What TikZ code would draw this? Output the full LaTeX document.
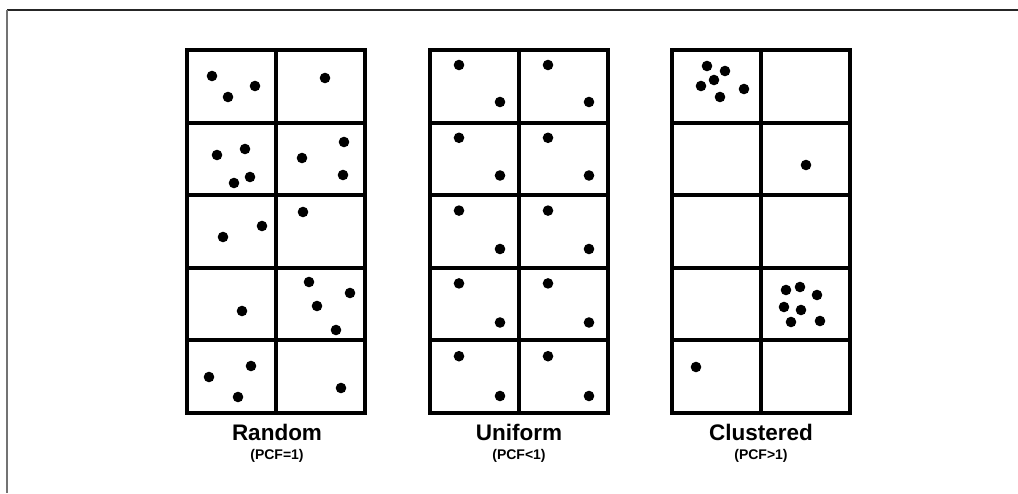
\documentclass[tikz,border=0pt]{standalone}
\usepackage{fontspec}
\newfontfamily\lblfont{Liberation Sans}
\usepackage{tikz}
\tikzset{
  gridline/.style={line width=4pt, black},
  dot/.style={fill=black},
  panellbl/.style={font=\lblfont\bfseries\fontsize{22.5}{26}\selectfont, anchor=base, inner sep=0pt},
  pcflbl/.style={font=\lblfont\bfseries\fontsize{14}{17}\selectfont, anchor=base, inner sep=0pt}
}

\begin{document}
\begin{tikzpicture}[x=1pt, y=-1pt]
  \useasboundingbox (0,0) rectangle (1018,493);
  % Frame
  \draw[line width=1.6pt, black!85] (7,10) -- (1018,10);
  \draw[line width=1.6pt, black!55] (7,10) -- (7,493);

  % --- Panel grids ---
  \foreach \L in {187, 430, 672} {
    \draw[gridline] (\L,50) rectangle (\L+178,413);
    \draw[gridline] (\L+89,50) -- (\L+89,413);
    \foreach \y in {122.5, 195, 267.5, 340}
      \draw[gridline] (\L,\y) -- (\L+178,\y);
  }

  % --- Panel 1: Random ---
  \foreach \x/\y in {212/76, 228/97, 255/86, 325/78,
                     217/155, 245/149, 234/183, 250/177,
                     302/158, 344/142, 343/175,
                     223/237, 262/226, 303/212,
                     242/311,
                     309/282, 350/293, 317/306, 336/330,
                     209/377, 251/366, 238/397, 341/388}
    \fill[dot] (\x,\y) circle (5.3);
  \node[panellbl] (randomlbl) at (277,440) {Random};
  \node[pcflbl] (randompcf) at (277,459) {(PCF=1)};

  % --- Panel 2: Uniform ---
  \foreach \r in {0,...,4} {
    \foreach \L in {430, 519} {
      \fill[dot] (\L+29,65+72.8*\r) circle (5.3);
      \fill[dot] (\L+70,102+73.5*\r) circle (5.3);
    }
  }
  \node[panellbl] (uniformlbl) at (519,440) {Uniform};
  \node[pcflbl] (uniformpcf) at (519,459) {(PCF<1)};

  % --- Panel 3: Clustered ---
  \foreach \x/\y in {707/66, 725/71, 714/80, 701/86, 720/97, 744/89,
                     806/165,
                     786/290, 800/287, 817/295, 784/307, 801/310, 791/322, 820/321,
                     696/367}
    \fill[dot] (\x,\y) circle (5.3);
  \node[panellbl] (clusteredlbl) at (761,440) {Clustered};
  \node[pcflbl] (clusteredpcf) at (761,459) {(PCF>1)};
\end{tikzpicture}
\end{document}
